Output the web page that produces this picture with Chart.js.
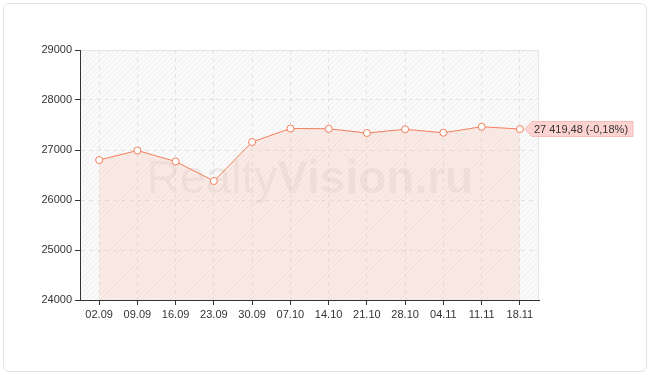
<!DOCTYPE html>
<html>
<head>
<meta charset="utf-8">
<script src="https://cdn.jsdelivr.net/npm/chart.js@4"></script>
<style>
    body { margin: 0; background: #fff; }
    .card {
        position: absolute; left: 3px; top: 3px; width: 642px; height: 367px;
        border: 1px solid #e4e4e4; border-radius: 6px;
    }
    #wrap { position: absolute; left: 0; top: 0; width: 650px; height: 375px; }
</style>
</head>
<body>
<div class="card"></div>
<div id="wrap"><canvas id="lineChart"></canvas></div>
<script>
const weeks = ['02.09', '09.09', '16.09', '23.09', '30.09', '07.10', '14.10', '21.10', '28.10', '04.11', '11.11', '18.11'];
const indexValues = [26800, 26990, 26770, 26380, 27160, 27430, 27425, 27340, 27415, 27345, 27465, 27419.48];
const lastLabel = '27 419,48 (-0,18%)';

// striped background of the plot
const hatch = document.createElement('canvas');
hatch.width = 5;
hatch.height = 5;
const hctx = hatch.getContext('2d');
hctx.fillStyle = '#fafafa';
hctx.fillRect(0, 0, 5, 5);
hctx.strokeStyle = '#eeeeee';
hctx.lineWidth = 1;
hctx.beginPath();
hctx.moveTo(-1, 6); hctx.lineTo(6, -1);
hctx.stroke();

const backdrop = {
    id: 'backdrop',
    beforeDraw(chart) {
        const a = chart.chartArea;
        const ctx = chart.ctx;
        ctx.save();
        ctx.fillStyle = ctx.createPattern(hatch, 'repeat');
        ctx.fillRect(a.left, a.top, a.right - a.left, a.bottom - a.top);
        ctx.strokeStyle = '#e6e6e6';
        ctx.lineWidth = 1;
        ctx.beginPath();
        ctx.moveTo(a.left, a.top + 0.5);
        ctx.lineTo(a.right - 0.5, a.top + 0.5);
        ctx.lineTo(a.right - 0.5, a.bottom);
        ctx.stroke();
        ctx.restore();
    },
    beforeDatasetsDraw(chart) {
        const a = chart.chartArea;
        const ctx = chart.ctx;
        ctx.save();
        ctx.fillStyle = 'rgba(150, 125, 120, 0.11)';
        ctx.textBaseline = 'alphabetic';
        const normal = '46px "Liberation Sans"';
        const bold = 'bold 46px "Liberation Sans"';
        ctx.font = normal;
        const w1 = ctx.measureText('Realty').width;
        ctx.font = bold;
        const w2 = ctx.measureText('Vision.ru').width;
        const x0 = 310 - (w1 + w2) / 2;
        const y0 = 193;
        ctx.font = normal;
        ctx.fillText('Realty', x0, y0);
        ctx.font = bold;
        ctx.fillText('Vision.ru', x0 + w1, y0);
        ctx.restore();
    },
    afterDraw(chart) {
        const meta = chart.getDatasetMeta(0);
        const pt = meta.data[meta.data.length - 1];
        const ctx = chart.ctx;
        ctx.save();
        ctx.font = '11px "Liberation Sans"';
        const tw = ctx.measureText(lastLabel).width;
        const x = pt.x + 5;
        const y = pt.y;
        const h = 15;
        ctx.fillStyle = '#fcd3d0';
        ctx.strokeStyle = '#f5bdb8';
        ctx.beginPath();
        ctx.moveTo(x, y);
        ctx.lineTo(x + 7, y - h / 2);
        ctx.lineTo(x + 7 + tw + 7, y - h / 2);
        ctx.lineTo(x + 7 + tw + 7, y + h / 2);
        ctx.lineTo(x + 7, y + h / 2);
        ctx.closePath();
        ctx.fill();
        ctx.stroke();
        ctx.fillStyle = '#333';
        ctx.textBaseline = 'middle';
        ctx.fillText(lastLabel, x + 9, y + 1);
        ctx.restore();
    }
};

const lineCtx = document.getElementById('lineChart').getContext('2d');
const lineChart = new Chart(lineCtx, {
    type: 'line',
    data: {
        labels: weeks,
        datasets: [{
            data: indexValues,
            borderColor: '#f47f5a',
            borderWidth: 1,
            backgroundColor: 'rgba(250, 195, 175, 0.28)',
            fill: 'start',
            tension: 0,
            pointRadius: 3.5,
            pointBackgroundColor: '#fff',
            pointBorderColor: '#f47f5a',
            pointBorderWidth: 1
        }]
    },
    options: {
        responsive: true,
        maintainAspectRatio: false,
        animation: false,
        layout: {
            padding: { left: 0, top: 50, right: 111, bottom: 0 }
        },
        scales: {
            y: {
                min: 24000,
                max: 29000,
                ticks: {
                    stepSize: 1000,
                    color: '#333',
                    padding: 3,
                    font: { family: 'Liberation Sans', size: 11 },
                    callback: value => String(value)
                },
                grid: {
                    color: '#e2e2e2',
                    tickColor: '#333',
                    tickLength: 5
                },
                border: { color: '#333', width: 1, dash: [4, 4] },
                afterFit(scale) { scale.width = 80; }
            },
            x: {
                offset: true,
                ticks: {
                    color: '#333',
                    padding: 3,
                    maxRotation: 0,
                    font: { family: 'Liberation Sans', size: 11 }
                },
                grid: {
                    color: '#e2e2e2',
                    tickColor: '#333',
                    tickLength: 5
                },
                border: { color: '#333', width: 1, dash: [4, 4] },
                afterFit(scale) { scale.height = 75; }
            }
        },
        plugins: {
            legend: { display: false },
            tooltip: { enabled: false }
        }
    },
    plugins: [backdrop]
});
</script>
</body>
</html>
